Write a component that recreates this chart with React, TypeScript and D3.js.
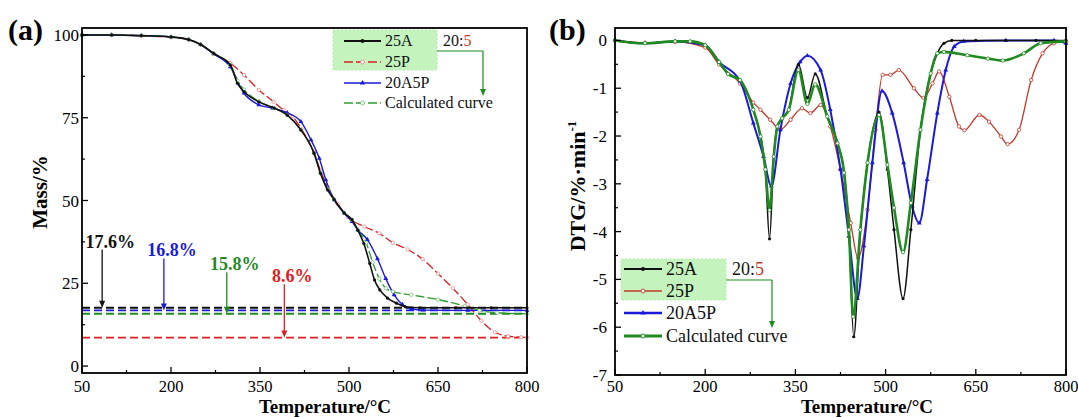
import React from 'react';
import * as d3 from 'd3';

// ---------- panel (a): TG curves ----------
const tgT25A = [50, 100, 150, 200, 230, 250, 272, 300, 312, 323, 348, 374, 396, 419, 441, 452, 464, 475, 492, 505, 515, 525, 535, 543, 552, 565, 580, 595, 620, 680, 740, 800];
const tg25A = [100, 100, 99.8, 99.4, 98.6, 97.1, 94.4, 90.9, 85.4, 82.9, 79.8, 77.9, 75.8, 71.3, 64.3, 58.2, 53.2, 50.3, 46.2, 44.2, 41, 37, 31, 26, 23, 20.5, 19, 17.9, 17.6, 17.6, 17.6, 17.6];

const tgT25P = [50, 100, 150, 200, 230, 250, 272, 300, 323, 348, 373, 390, 405, 420, 441, 452, 464, 481, 498, 526, 551, 574, 599, 624, 650, 675, 700, 723, 746, 768, 790, 800];
const tg25P = [100, 100, 99.7, 99.3, 98.5, 97.1, 94.4, 91.5, 87.9, 83.4, 79.8, 77.3, 75.4, 71.5, 64.5, 59, 54, 49, 45, 42.1, 40.1, 37.2, 35.2, 32.3, 27.9, 23.5, 18.6, 13.7, 10.2, 9.0, 8.7, 8.6];

const tgT20A5P = [50, 100, 150, 200, 230, 250, 272, 300, 323, 348, 371, 396, 419, 436, 450, 461, 475, 492, 505, 515, 531, 548, 562, 576, 590, 605, 625, 700, 800];
const tg20A5P = [100, 100, 99.8, 99.4, 98.6, 97.1, 94.3, 90.4, 82.4, 78.9, 77.9, 76.5, 73.8, 68.3, 62.7, 56.2, 50.2, 46.2, 43.6, 41.1, 38.2, 32.4, 26.4, 21.5, 18.6, 17.3, 16.9, 16.8, 16.8];

const tgTCalc = [50, 100, 150, 200, 230, 250, 272, 300, 312, 323, 348, 374, 396, 419, 441, 452, 464, 475, 492, 505, 515, 529, 540, 551, 562, 574, 605, 650, 695, 720, 750, 800];
const tgCalc = [100, 100, 99.8, 99.4, 98.6, 97.1, 94.4, 91.0, 86.2, 83.5, 80.0, 77.9, 75.8, 71.3, 64.3, 58.4, 53.4, 50.3, 46.2, 44.2, 41.1, 37.2, 31.3, 26.4, 23.5, 22.5, 21.5, 20.1, 18.1, 16.8, 16.1, 15.8];

// residue annotations
const residues = [17.6, 16.8, 15.8, 8.6];
const residueLabels = ['17.6%', '16.8%', '15.8%', '8.6%'];
const residueArrowT = [84, 188, 294, 391];
const residueLabelMass = [35.8, 33.1, 28.9, 25.3];

// ---------- panel (b): DTG curves ----------
const dtgT25A = [50, 100, 150, 175, 200, 223, 238, 258, 280, 292, 300, 307, 314, 320, 328, 339, 355, 370, 383, 403, 420, 431, 439, 447, 458, 470, 489, 503, 514, 529, 542, 558, 575, 586, 597, 610, 650, 700, 750, 800];
const dtg25A = [0, -0.06, -0.02, -0.02, -0.1, -0.45, -0.7, -0.83, -1.45, -2.01, -2.7, -4.15, -2.43, -1.8, -1.63, -1.45, -0.5, -1.2, -0.7, -1.59, -2.15, -2.77, -3.96, -6.2, -3.96, -2.56, -1.5, -2.7, -3.96, -5.4, -3.96, -1.87, -0.69, -0.27, -0.06, 0, 0, 0, 0, 0];

const dtgTCalc = [50, 100, 150, 175, 200, 223, 238, 258, 280, 292, 300, 307, 314, 320, 328, 339, 355, 370, 383, 403, 420, 431, 439, 446, 458, 470, 489, 503, 514, 529, 542, 558, 575, 586, 597, 636, 670, 695, 730, 758, 800];
const dtgCalc = [0, -0.06, -0.02, -0.02, -0.1, -0.45, -0.7, -0.83, -1.45, -2.01, -2.7, -3.55, -2.43, -1.8, -1.63, -1.45, -0.62, -1.33, -0.92, -1.59, -2.15, -2.77, -3.96, -5.78, -3.96, -2.56, -1.56, -2.6, -3.5, -4.43, -3.4, -1.87, -0.69, -0.27, -0.24, -0.31, -0.38, -0.42, -0.27, -0.06, -0.02];

const dtgT20A5P = [50, 100, 150, 200, 223, 258, 280, 297, 310, 325, 342, 358, 370, 392, 408, 425, 439, 453, 464, 478, 494, 511, 530, 544, 556, 569, 586, 600, 614, 630, 700, 780, 800];
const dtg20A5P = [0, -0.06, -0.02, -0.1, -0.45, -0.85, -1.73, -2.43, -3.05, -1.87, -0.9, -0.45, -0.32, -0.62, -1.45, -2.7, -4.1, -5.4, -4.3, -2.56, -1.06, -1.52, -2.56, -3.47, -3.82, -2.91, -1.52, -0.62, -0.13, -0.02, 0, 0, -0.06];

const dtgT25P = [50, 100, 150, 200, 223, 258, 280, 292, 308, 325, 342, 361, 375, 392, 408, 425, 442, 454, 470, 483, 495, 508, 522, 547, 563, 578, 589, 606, 622, 631, 656, 672, 692, 703, 722, 742, 761, 780, 800];
const dtg25P = [0, -0.05, -0.03, -0.15, -0.5, -0.9, -1.3, -1.45, -1.66, -1.86, -1.66, -1.42, -1.52, -1.35, -1.8, -2.7, -3.82, -4.55, -3.54, -1.87, -0.72, -0.72, -0.62, -1.0, -1.2, -0.9, -0.65, -1.18, -1.8, -1.88, -1.56, -1.7, -2.01, -2.17, -1.87, -0.83, -0.27, -0.06, -0.02];

// ---------- axes ----------
const xTicks = [50, 200, 350, 500, 650, 800];
const xMinor = [125, 275, 425, 575, 725];
const yTicksA = [0, 25, 50, 75, 100];
const yMinorA = [12.5, 37.5, 62.5, 87.5];
const yTicksB = [-7, -6, -5, -4, -3, -2, -1, 0];
const yMinorB = [-6.5, -5.5, -4.5, -3.5, -2.5, -1.5, -0.5];
const legendNames = ['25A', '25P', '20A5P', 'Calculated curve'];

const FONT = "'Liberation Serif', 'Times New Roman', 'DejaVu Serif', serif";
const BLACK = '#111111';
const RED = '#d42020';
const REDB = '#c0392b';
const BLUE = '#1a1ad8';
const GREEN = '#1f8a1f';

const zip = (t: number[], v: number[]) => t.map((d, i) => [d, v[i]] as [number, number]);

type Series = {
  pts: [number, number][];
  color: string;
  width: number;
  dash?: string;
  marker: 'dot' | 'open' | 'tri';
  mColor: string;
};

function Curve({ s, x, y }: { s: Series; x: any; y: any }) {
  const line = d3.line<[number, number]>().x(d => x(d[0])).y(d => y(d[1])).curve(d3.curveMonotoneX);
  const tri = d3.symbol(d3.symbolTriangle, 10)();
  return (
    <g>
      <path d={line(s.pts) || ''} fill="none" stroke={s.color} strokeWidth={s.width} strokeDasharray={s.dash} strokeLinejoin="round" />
      {s.pts.map((p, i) => {
        const cx = x(p[0]);
        const cy = y(p[1]);
        if (s.marker === 'tri') return <path key={i} d={tri || ''} transform={`translate(${cx},${cy})`} fill={s.mColor} />;
        if (s.marker === 'open') return <circle key={i} cx={cx} cy={cy} r={1.7} fill="#fff" stroke={s.mColor} strokeWidth={0.8} />;
        return <circle key={i} cx={cx} cy={cy} r={1.6} fill={s.mColor} />;
      })}
    </g>
  );
}

function Axes({ x, y, yTicks, yMinor, yLabelGap }: any) {
  const [x0, x1] = x.range();
  const [y0, y1] = y.range();
  return (
    <g style={{ fontFamily: FONT }} fill="#000">
      {xTicks.map(t => (
        <g key={'x' + t}>
          <line x1={x(t)} x2={x(t)} y1={y0} y2={y0 - 6} stroke="#000" strokeWidth={1.3} />
          <text x={x(t)} y={392} fontSize={16.5} textAnchor="middle">{t}</text>
        </g>
      ))}
      {xMinor.map(t => (
        <line key={'xm' + t} x1={x(t)} x2={x(t)} y1={y0} y2={y0 - 3} stroke="#000" strokeWidth={1.2} />
      ))}
      {yTicks.map((t: number) => (
        <g key={'y' + t}>
          <line x1={x0} x2={x0 + 6} y1={y(t)} y2={y(t)} stroke="#000" strokeWidth={1.3} />
          <text x={x0 - yLabelGap} y={y(t) + 6} fontSize={17} textAnchor="end">{String(t)}</text>
        </g>
      ))}
      {yMinor.map((t: number) => (
        <line key={'ym' + t} x1={x0} x2={x0 + 3} y1={y(t)} y2={y(t)} stroke="#000" strokeWidth={1.2} />
      ))}
      <rect x={x0} y={y1} width={x1 - x0} height={y0 - y1} fill="none" stroke="#000" strokeWidth={1.8} />
    </g>
  );
}

function DownArrow({ x, y1, y2, color, w = 1.3 }: { x: number; y1: number; y2: number; color: string; w?: number }) {
  return (
    <g>
      <line x1={x} x2={x} y1={y1} y2={y2 - 6} stroke={color} strokeWidth={w} />
      <path d={`M${x - 3},${y2 - 7} L${x + 3},${y2 - 7} L${x},${y2} Z`} fill={color} />
    </g>
  );
}

function Legend({ x0, rows, box, series, fontSize, ratio }: any) {
  // box: [left, top, right, bottom]; ratio: [textX, baselineY, arrowX, arrowY1, arrowY2]
  const [bl, bt, br, bb] = box;
  const [rx, ry, ax, ay1, ay2] = ratio;
  return (
    <g style={{ fontFamily: FONT }}>
      <rect x={bl} y={bt} width={br - bl} height={bb - bt} fill="#c4f3bd" stroke="#a8e6a0" strokeDasharray="2,2" strokeWidth={0.8} />
      {legendNames.map((n, i) => {
        const s: Series = series[i];
        const cy = rows[i];
        const mx = (x0[0] + x0[1]) / 2;
        return (
          <g key={n}>
            <line x1={x0[0]} x2={x0[1]} y1={cy} y2={cy} stroke={s.color} strokeWidth={s.width + 0.3} strokeDasharray={s.dash} />
            {s.marker === 'tri' ? (
              <path d={d3.symbol(d3.symbolTriangle, 12)() || ''} transform={`translate(${mx},${cy})`} fill={s.mColor} />
            ) : s.marker === 'open' ? (
              <circle cx={mx} cy={cy} r={2} fill="#fff" stroke={s.mColor} strokeWidth={0.9} />
            ) : (
              <circle cx={mx} cy={cy} r={2} fill={s.mColor} />
            )}
            <text x={x0[1] + 4} y={cy + fontSize * 0.33} fontSize={fontSize} fill="#111">{n}</text>
          </g>
        );
      })}
      <text x={rx} y={ry} fontSize={fontSize} fill="#111">20:<tspan fill={REDB}>5</tspan></text>
      <line x1={br} x2={ax} y1={ay1} y2={ay1} stroke={GREEN} strokeWidth={1.2} />
      <DownArrow x={ax} y1={ay1} y2={ay2} color={GREEN} w={1.2} />
    </g>
  );
}

export default function App() {
  // panel (a) scales
  const xA = d3.scaleLinear().domain([50, 800]).range([82, 527]);
  const yA = d3.scaleLinear().domain([-2.1, 102.1]).range([373, 28]);
  // panel (b) scales
  const xB = d3.scaleLinear().domain([50, 800]).range([615, 1066]);
  const yB = d3.scaleLinear().domain([-7, 0.26]).range([375, 28]);

  const sA: Series[] = [
    { pts: zip(tgT25A, tg25A), color: BLACK, width: 1.6, marker: 'dot', mColor: BLACK },
    { pts: zip(tgT25P, tg25P), color: RED, width: 1.3, dash: '9,3', marker: 'open', mColor: '#f08a8a' },
    { pts: zip(tgT20A5P, tg20A5P), color: BLUE, width: 1.4, marker: 'tri', mColor: BLUE },
    { pts: zip(tgTCalc, tgCalc), color: '#2f9a2f', width: 1.3, dash: '9,3', marker: 'open', mColor: '#7cc47c' },
  ];
  const sB: Series[] = [
    { pts: zip(dtgT25A, dtg25A), color: BLACK, width: 1.5, marker: 'dot', mColor: BLACK },
    { pts: zip(dtgT25P, dtg25P), color: REDB, width: 1.3, marker: 'open', mColor: REDB },
    { pts: zip(dtgT20A5P, dtg20A5P), color: BLUE, width: 2, marker: 'tri', mColor: BLUE },
    { pts: zip(dtgTCalc, dtgCalc), color: GREEN, width: 2.6, marker: 'open', mColor: GREEN },
  ];
  const resColors = [BLACK, BLUE, GREEN, '#e02020'];
  const [ax0, ax1] = xA.range();
  const bold = { fontFamily: FONT, fontWeight: 700 } as React.CSSProperties;

  return (
    <div style={{ position: 'absolute', left: 0, top: 0 }}>
      <svg width={1078} height={417} style={{ display: 'block', background: '#fff', fontFamily: FONT }}>
        {/* ---------- (a) ---------- */}
        <text x={8} y={40} style={bold} fontSize={30}>(a)</text>
        <Legend
          x0={[344, 381]}
          rows={[41, 62, 83, 103]}
          box={[333, 30, 437, 70]}
          series={sA}
          fontSize={16}
          ratio={[443, 46, 483, 51, 96]}
        />
        {residues.map((r, i) => (
          <line key={'d' + i} x1={ax0} x2={ax1} y1={yA(r)} y2={yA(r)} stroke={resColors[i]} strokeWidth={1.8} strokeDasharray="8,4" />
        ))}
        {[sA[1], sA[2], sA[3], sA[0]].map((s, i) => <Curve key={i} s={s} x={xA} y={yA} />)}
        {residues.map((r, i) => (
          <g key={'r' + i}>
            <text x={xA(residueArrowT[i]) + 8} y={yA(residueLabelMass[i])} style={bold} fontSize={18} fill={resColors[i]} textAnchor="middle">{residueLabels[i]}</text>
            <DownArrow x={xA(residueArrowT[i])} y1={yA(residueLabelMass[i]) + 2} y2={yA(r)} color={resColors[i]} />
          </g>
        ))}
        <Axes x={xA} y={yA} yTicks={yTicksA} yMinor={yMinorA} yLabelGap={3} />
        <text transform="translate(47,192) rotate(-90)" style={bold} fontSize={21} textAnchor="middle">Mass/%</text>
        <text x={325} y={413} style={bold} fontSize={19} textAnchor="middle">Temperature/°C</text>

        {/* ---------- (b) ---------- */}
        <text x={549} y={40} style={bold} fontSize={30}>(b)</text>
        <Legend
          x0={[624, 662]}
          rows={[269, 291, 313, 336]}
          box={[621, 259, 726, 300]}
          series={sB}
          fontSize={18}
          ratio={[732, 275, 772, 280, 328]}
        />
        {[sB[1], sB[2], sB[0], sB[3]].map((s, i) => <Curve key={i} s={s} x={xB} y={yB} />)}
        <Axes x={xB} y={yB} yTicks={yTicksB} yMinor={yMinorB} yLabelGap={8} />
        <text transform="translate(585,186) rotate(-90)" style={bold} fontSize={22} textAnchor="middle">
          DTG/%·min<tspan fontSize={13} dy={-9}>-1</tspan>
        </text>
        <text x={867} y={413} style={bold} fontSize={19} textAnchor="middle">Temperature/°C</text>
      </svg>
    </div>
  );
}
